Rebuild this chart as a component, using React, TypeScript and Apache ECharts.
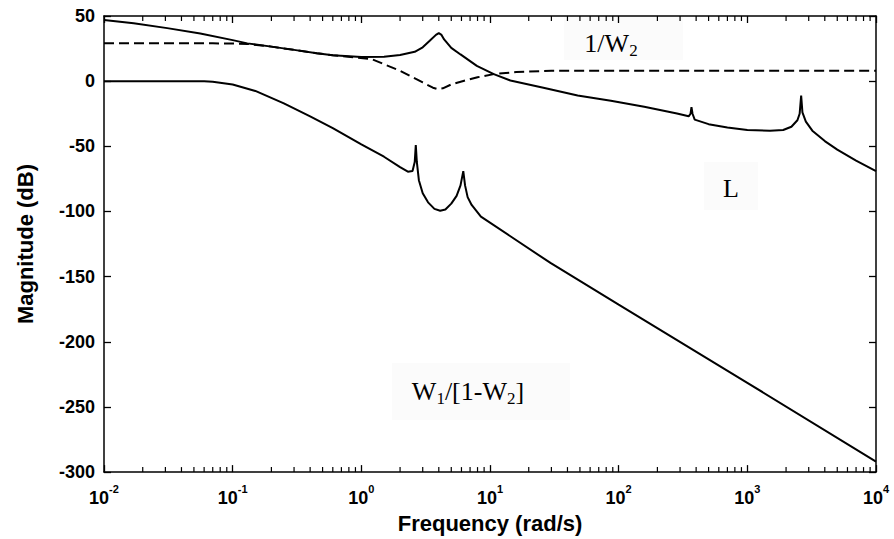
import React, { useEffect, useRef } from "react";
import * as echarts from "echarts";

// Loop gain L
const lFreq = [0.01, 0.017, 0.031, 0.056, 0.1, 0.13, 0.2, 0.3, 0.45, 0.6, 1.0, 1.5, 2.0, 2.6, 3.0, 3.4, 3.8, 4.0, 4.2, 4.4, 5.0, 5.9, 7.9, 10.7, 14.4, 26, 48, 87, 158, 284, 350, 362, 368, 375, 390, 500, 700, 1000, 1500, 1900, 2200, 2450, 2550, 2620, 2680, 2850, 3200, 4000, 5000, 7000, 10000];
const lMag = [47, 44.5, 40.7, 36.5, 31.5, 29, 26.5, 24, 21.5, 19.8, 18.5, 18.8, 20, 22.5, 26, 31, 35.5, 36.9, 35.5, 32, 25.5, 20.5, 11.7, 5.4, 0.5, -5, -11, -15, -19.6, -24.8, -27, -25, -20, -25, -29.5, -33, -35.5, -37.5, -38, -37.5, -35, -30, -25, -11, -24, -31, -38, -46, -52.5, -61, -69];

// 1/W2 (dashed)
const w2Freq = [0.01, 0.07, 0.1, 0.13, 0.2, 0.3, 0.45, 0.6, 0.9, 1.2, 1.5, 2.0, 2.5, 3.0, 3.6, 3.9, 4.3, 5.0, 6.3, 8, 10.7, 16, 30, 10000];
const w2Mag = [29, 29, 28.9, 28.6, 26.5, 24, 21.5, 19.8, 18.2, 17, 13, 8, 3, -1, -5, -6, -5.5, -2.5, 0.3, 3, 5.4, 7, 7.9, 7.9];

// W1/[1-W2]
const wFreq = [0.01, 0.06, 0.07, 0.1, 0.15, 0.25, 0.4, 0.6, 1.0, 1.5, 2.0, 2.3, 2.5, 2.6, 2.65, 2.7, 2.8, 3.0, 3.3, 3.7, 4.1, 4.5, 5.0, 5.5, 5.9, 6.2, 6.4, 6.7, 7.2, 8.5, 14.4, 29.5, 100, 1000, 10000];
const wMag = [0, 0, -0.5, -2.5, -7.5, -17, -27, -36, -48.5, -58, -66, -69.5, -69, -62, -49, -62, -76, -86, -93, -98, -99.5, -98.5, -94, -88, -80, -69, -80, -89, -95, -104, -119, -139.5, -171.5, -231.5, -292];

// curve annotations: [text, isSubscript]
const labelW2: [string, boolean][] = [["1/W", false], ["2", true]];
const labelL: [string, boolean][] = [["L", false]];
const labelW1: [string, boolean][] = [["W", false], ["1", true], ["/[1-W", false], ["2", true], ["]", false]];

// minor ticks of the log axis
const minorTickFreqs: number[] = [];
[0.01, 0.1, 1, 10, 100, 1000].forEach((d) => {
  [2, 3, 4, 5, 6, 7, 8, 9].forEach((m) => minorTickFreqs.push(+(d * m).toPrecision(3)));
});

const yMin = -300;
const yMax = 50;
const yStep = 50;
const xMin = 0.01;
const xMax = 10000;

const SANS = "'Liberation Sans', Arial, Helvetica, sans-serif";
const SERIF = "'Liberation Serif', 'Times New Roman', serif";
const MAIN_SIZE = 26;
const SUB_SIZE = 17;

const zip = (xs: number[], ys: number[]) => xs.map((x, i) => [x, ys[i]]);

export default function App() {
  const ref = useRef<HTMLDivElement>(null);

  useEffect(() => {
    if (!ref.current) return;
    const chart = echarts.init(ref.current, null, { renderer: "svg" });

    const ctx = document.createElement("canvas").getContext("2d");
    const measure = (t: string, size: number) => {
      if (!ctx) return t.length * size * 0.5;
      ctx.font = `${size}px ${SERIF}`;
      return ctx.measureText(t).width;
    };
    const makeLabel = (cx: number, cy: number, pieces: [string, boolean][]) => {
      const widths = pieces.map(([t, sub]) => measure(t, sub ? SUB_SIZE : MAIN_SIZE));
      const total = widths.reduce((a, b) => a + b, 0);
      let x = cx - total / 2;
      const children = pieces.map(([t, sub], i) => {
        const el = {
          type: "text",
          x,
          y: cy + (sub ? 7 : 0),
          z: 10,
          style: {
            text: t,
            fontSize: sub ? SUB_SIZE : MAIN_SIZE,
            fontFamily: SERIF,
            fill: "#000",
            align: "left",
            verticalAlign: "middle",
          },
        };
        x += widths[i];
        return el;
      });
      return { type: "group", children };
    };

    const axisLine = { show: true, onZero: false, lineStyle: { color: "#000", width: 1.5 } };
    const tick = { show: true, inside: true, length: 7, lineStyle: { color: "#000", width: 1.3 } };
    const xLabel = {
      show: true,
      margin: 11,
      formatter: (v: number) => `{b|10}{s|${Math.round(Math.log10(v))}}`,
      rich: {
        b: { fontSize: 18, fontWeight: "bold", fontFamily: SANS, color: "#000", lineHeight: 24, verticalAlign: "bottom" },
        s: { fontSize: 11, fontWeight: "bold", fontFamily: SANS, color: "#000", lineHeight: 9, verticalAlign: "top" },
      },
    };

    chart.setOption({
      animation: false,
      backgroundColor: "#fff",
      grid: { left: 104, right: 18, top: 16, bottom: 61, show: false },
      xAxis: [
        {
          type: "log",
          logBase: 10,
          min: xMin,
          max: xMax,
          splitNumber: 6,
          position: "bottom",
          axisLine,
          axisTick: tick,
          splitLine: { show: false },
          minorTick: { show: false },
          axisLabel: xLabel,
          name: "Frequency (rad/s)",
          nameLocation: "middle",
          nameGap: 27,
          nameTextStyle: { fontSize: 22, fontWeight: "bold", fontFamily: SANS, color: "#000" },
        },
        {
          type: "log",
          logBase: 10,
          min: xMin,
          max: xMax,
          splitNumber: 6,
          position: "top",
          axisLine,
          axisTick: tick,
          splitLine: { show: false },
          axisLabel: { show: false },
        },
      ],
      yAxis: [
        {
          type: "value",
          min: yMin,
          max: yMax,
          interval: yStep,
          position: "left",
          axisLine,
          axisTick: tick,
          splitLine: { show: false },
          axisLabel: { show: true, margin: 9, fontSize: 18, fontWeight: "bold", fontFamily: SANS, color: "#000" },
          name: "Magnitude (dB)",
          nameLocation: "middle",
          nameGap: 68,
          nameTextStyle: { fontSize: 22, fontWeight: "bold", fontFamily: SANS, color: "#000" },
        },
        {
          type: "value",
          min: yMin,
          max: yMax,
          interval: yStep,
          position: "right",
          axisLine,
          axisTick: tick,
          splitLine: { show: false },
          axisLabel: { show: false },
        },
      ],
      graphic: [
        { type: "rect", z: 0, silent: true, shape: { x: 564, y: 17, width: 119, height: 43 }, style: { fill: "#fbfbfb" } },
        { type: "rect", z: 0, silent: true, shape: { x: 704, y: 162, width: 54, height: 48 }, style: { fill: "#fbfbfb" } },
        { type: "rect", z: 0, silent: true, shape: { x: 392, y: 363, width: 178, height: 57 }, style: { fill: "#fbfbfb" } },
        makeLabel(611, 43, labelW2),
        makeLabel(731, 188, labelL),
        makeLabel(468, 391, labelW1),
      ],
      series: [
        {
          name: "L",
          type: "line",
          data: zip(lFreq, lMag),
          showSymbol: false,
          lineStyle: { color: "#000", width: 2 },
          z: 5,
        },
        {
          name: "1/W2",
          type: "line",
          data: zip(w2Freq, w2Mag),
          showSymbol: false,
          lineStyle: { color: "#000", width: 2, type: [10, 5] },
          z: 5,
        },
        {
          name: "W1/[1-W2]",
          type: "line",
          data: zip(wFreq, wMag),
          showSymbol: false,
          lineStyle: { color: "#000", width: 2 },
          z: 5,
        },
        {
          name: "minorTicks",
          type: "custom",
          data: minorTickFreqs.map((f) => [f, 0]),
          clip: false,
          silent: true,
          z: 6,
          renderItem: (params: any, api: any) => {
            const f = api.value(0);
            const pb = api.coord([f, yMin]);
            const pt = api.coord([f, yMax]);
            const st = { stroke: "#000", lineWidth: 1.2 };
            return {
              type: "group",
              children: [
                { type: "line", shape: { x1: pb[0], y1: pb[1], x2: pb[0], y2: pb[1] - 5 }, style: st },
                { type: "line", shape: { x1: pt[0], y1: pt[1], x2: pt[0], y2: pt[1] + 5 }, style: st },
              ],
            };
          },
        },
      ],
    });
    return () => chart.dispose();
  }, []);

  return (
    <div
      ref={ref}
      style={{ position: "fixed", left: 0, top: 0, width: 894, height: 539, background: "#fff" }}
    />
  );
}
